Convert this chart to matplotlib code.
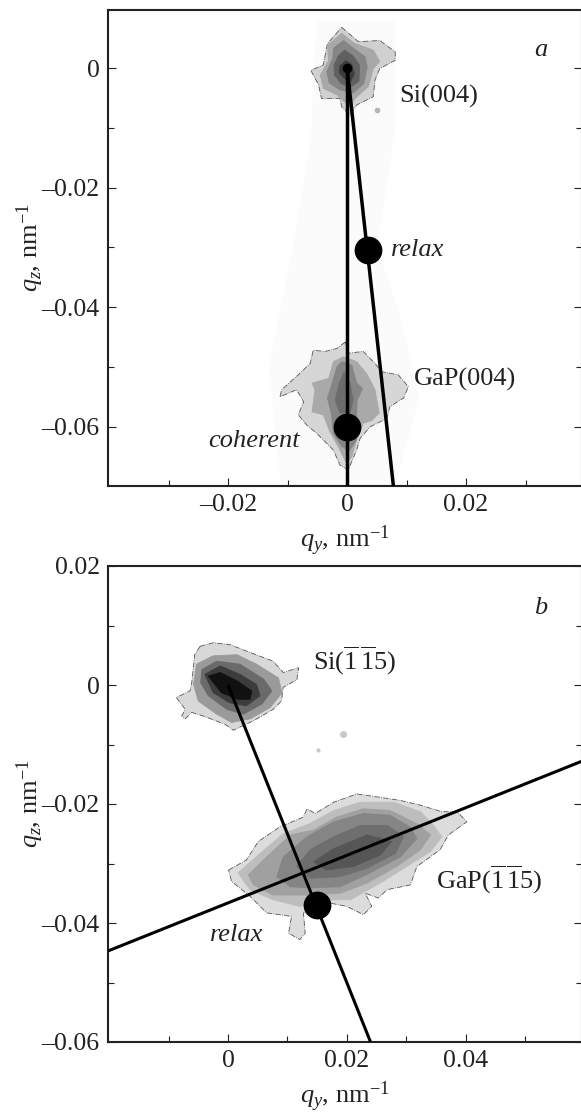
import matplotlib
matplotlib.use("Agg")
import matplotlib.pyplot as plt
from matplotlib.ticker import FixedLocator

plt.rcParams["font.family"] = ["Liberation Serif", "DejaVu Serif"]
plt.rcParams["mathtext.fontset"] = "custom"
plt.rcParams["mathtext.rm"] = "Liberation Serif"
plt.rcParams["mathtext.it"] = "Liberation Serif:italic"
plt.rcParams["mathtext.bf"] = "Liberation Serif:bold"

INK = "#222222"
W, H = 581, 1115

# all contour outlines are (qy, qz) in units of 1e-3 nm^-1
halo_a = [(-11, -70), (-13, -50), (-9, -30), (-6, -12), (-5, 8), (8, 8), (8, -10), (5, -30), (9, -42), (12, -55), (8, -70)]

si004 = [
    ("#d0d0d0", [(-0.9, 6.8), (1.9, 4.4), (5.5, 4.6), (8.1, 2.7), (8.1, 1.3), (5.5, -0.1), (4.7, -2.0), (4.4, -4.8), (1.6, -6.2), (0.5, -7.9), (-0.9, -6.5), (-1.2, -5.1), (-4.3, -5.1), (-4.8, -2.8), (-6.1, -0.4), (-4.0, 0.5), (-3.3, 4.1)]),
    ("#a8a8a8", [(-0.9, 5.8), (1.3, 4.1), (4.4, 3.0), (5.5, 1.1), (4.4, -0.1), (3.6, -3.1), (1.3, -5.1), (0.5, -6.5), (-1.7, -4.5), (-4.0, -3.4), (-4.5, -1.2), (-3.1, 1.3), (-3.3, 3.8)]),
    ("#858585", [(-0.6, 4.6), (1.2, 3.2), (3.0, 1.9), (3.4, 0.2), (2.8, -2.6), (1.0, -4.2), (-1.3, -3.6), (-3.0, -2.5), (-3.4, -0.6), (-2.4, 1.6), (-2.3, 3.3)]),
    ("#606060", [(-0.4, 3.0), (1.0, 2.0), (2.1, 0.5), (2.0, -2.2), (0.6, -3.2), (-1.0, -2.6), (-2.1, -1.2), (-2.2, 0.5), (-1.5, 2.0)]),
    ("#3c3c3c", [(-0.2, 1.2), (0.8, 0.6), (1.2, -1.0), (0.6, -2.2), (-0.4, -1.8), (-1.3, -0.8), (-1.2, 0.4)]),
]

gap004 = [
    ("#d6d6d6", [(-0.3, -45.8), (0.2, -47.7), (2.7, -47.4), (4.7, -49.4), (5.8, -50.8), (8.6, -51.3), (10.3, -53.3), (9.5, -55.2), (7.2, -56.6), (6.7, -58.6), (3.9, -60.0), (2.2, -61.9), (1.6, -63.9), (0.2, -67.2), (-1.2, -66.4), (-2.3, -63.9), (-5.1, -61.1), (-6.8, -59.7), (-8.2, -58.0), (-7.3, -55.8), (-8.5, -53.8), (-11.3, -55.0), (-11.0, -53.8), (-8.2, -51.3), (-6.2, -49.4), (-5.7, -47.2), (-3.7, -47.4), (-1.7, -46.9)]),
    ("#a9a9a9", [(-0.6, -48.3), (1.6, -49.1), (3.3, -51.1), (4.7, -53.8), (5.4, -57.7), (4.1, -59.0), (2.7, -59.4), (1.6, -62.2), (0.8, -65.0), (-0.1, -66.1), (-1.5, -63.3), (-2.9, -60.8), (-4.0, -58.0), (-5.9, -57.5), (-5.4, -53.8), (-5.9, -52.7), (-3.1, -51.9), (-2.3, -49.1)]),
    ("#858585", [(-0.9, -49.1), (0.8, -49.7), (1.6, -52.7), (2.6, -53.6), (1.7, -55.5), (1.6, -58.0), (1.6, -62.2), (0.3, -64.1), (-0.9, -63.3), (-2.3, -61.1), (-2.6, -58.0), (-3.3, -55.2), (-2.6, -53.0), (-1.7, -50.0)]),
    ("#6c6c6c", [(-0.5, -50.8), (0.5, -52.7), (1.0, -55.5), (0.5, -57.7), (-1.2, -57.7), (-2.0, -55.5), (-1.3, -52.7)]),
]

si115 = [
    ("#d8d8d8", [(-4.7, 6.5), (-2.5, 7.1), (0.3, 6.8), (3.1, 5.7), (7.6, 4.0), (9.3, 2.1), (11.9, 2.9), (11.6, 0.9), (9.3, -0.4), (9.0, -2.7), (7.6, -4.1), (4.3, -6.0), (0.9, -7.6), (-0.5, -6.6), (-4.2, -5.2), (-6.1, -4.6), (-7.2, -5.7), (-7.8, -5.2), (-7.2, -4.1), (-8.7, -2.1), (-6.4, -1.0), (-6.1, 0.4), (-5.6, 5.1)]),
    ("#9a9a9a", [(-5.3, 3.5), (-2.5, 4.9), (1.5, 5.1), (4.8, 3.5), (8.5, 1.2), (9.1, -1.3), (7.1, -3.8), (3.7, -5.7), (0.6, -6.3), (-1.9, -4.9), (-5.0, -2.7), (-5.8, 0.1)]),
    ("#6a6a6a", [(-4.4, 2.6), (-1.9, 4.0), (2.0, 3.5), (6.0, 1.0), (7.4, -1.0), (5.7, -3.2), (2.6, -4.9), (-0.2, -4.1), (-3.3, -1.8), (-4.6, 0.4)]),
    ("#3c3c3c", [(-3.9, 1.8), (-1.3, 3.2), (2.0, 1.8), (4.8, 0.1), (5.4, -1.8), (3.1, -3.5), (0.3, -3.0), (-2.5, -1.3)]),
    ("#111111", [(-3.3, 1.5), (-1.3, 2.1), (1.5, 0.7), (4.0, -1.0), (3.7, -2.4), (1.7, -2.4), (-1.1, -1.3)]),
]

gap115 = [
    ("#dcdcdc", [(0.1, -31.1), (3.1, -29.4), (5.1, -26.3), (8.8, -23.8), (12.7, -22.2), (13.3, -20.8), (14.7, -21.6), (17.8, -19.7), (21.7, -18.3), (25.1, -18.8), (29.0, -19.4), (32.4, -20.2), (36.0, -21.3), (38.6, -21.3), (40.2, -23.0), (37.1, -25.2), (35.7, -27.7), (31.8, -30.5), (30.7, -33.6), (26.8, -34.4), (25.3, -35.8), (23.1, -35.0), (24.2, -37.2), (22.8, -38.6), (20.0, -37.2), (16.9, -36.6), (14.4, -38.3), (12.7, -38.3), (13.0, -41.7), (12.1, -42.8), (10.2, -41.7), (10.7, -38.9), (6.5, -38.3), (3.7, -35.5), (0.6, -33.0)]),
    ("#bdbdbd", [(1.7, -31.6), (5.4, -28.3), (9.3, -25.0), (13.8, -23.3), (17.8, -21.1), (22.3, -19.7), (27.9, -19.7), (32.4, -21.3), (34.6, -23.6), (36.0, -25.5), (34.1, -28.0), (30.1, -30.5), (25.6, -33.3), (20.6, -36.1), (16.6, -36.1), (12.1, -37.2), (7.6, -36.1), (3.7, -34.4)]),
    ("#a0a0a0", [(3.4, -31.9), (6.5, -28.9), (10.5, -25.2), (14.4, -24.4), (18.3, -22.2), (22.8, -20.8), (27.3, -21.1), (31.8, -23.3), (34.1, -25.2), (32.4, -27.7), (28.4, -30.5), (23.4, -33.3), (18.9, -35.0), (13.3, -35.3), (7.6, -35.3), (4.3, -33.6)]),
    ("#858585", [(8.2, -32.2), (9.3, -28.9), (13.3, -25.5), (17.8, -23.0), (22.8, -21.6), (27.3, -21.9), (30.7, -23.9), (31.8, -25.8), (29.0, -28.9), (23.9, -31.6), (18.9, -33.9), (13.8, -34.1), (10.5, -33.9)]),
    ("#6e6e6e", [(11.6, -30.5), (13.8, -27.7), (17.8, -25.5), (22.3, -23.6), (26.8, -23.6), (29.6, -25.5), (28.2, -28.3), (23.4, -30.8), (18.9, -32.2), (13.8, -32.5)]),
    ("#565656", [(14.4, -29.7), (17.8, -27.5), (23.4, -25.2), (27.6, -26.3), (25.6, -28.6), (21.1, -30.5), (16.6, -31.1)]),
]

specks_a = [(5.0, -7.0)]
specks_b = [(19.4, -8.2), (15.1, -10.9)]

# rod lines, (qy, qz) end points in nm^-1
lines_a = [((0, 0), (0, -0.07)), ((0, 0), (0.0078, -0.07))]
lines_b = [((0, 0), (0.024, -0.06)), ((-0.0202, -0.0447), (0.0596, -0.0128))]
dots_a = [(0, -0.06), (0.0035, -0.0305)]
dots_b = [(0.015, -0.037)]

xlim_a = (-0.0402, 0.0395)
ylim_a = (-0.0699, 0.0097)
xlim_b = (-0.0202, 0.0596)
ylim_b = (-0.06, 0.02)


def style(ax, xlim, ylim, xticks, xlabels, yticks, ylabels, xminor, yminor):
    ax.set_xlim(xlim)
    ax.set_ylim(ylim)
    ax.set_xticks(xticks)
    ax.set_xticklabels(xlabels)
    ax.set_yticks(yticks)
    ax.set_yticklabels(ylabels)
    ax.xaxis.set_minor_locator(FixedLocator(xminor))
    ax.yaxis.set_minor_locator(FixedLocator(yminor))
    ax.tick_params(which="major", direction="in", length=6, width=0.8, color=INK,
                   labelsize=18.5, labelcolor=INK, top=False, right=True, pad=6)
    ax.tick_params(which="minor", direction="in", length=4, width=0.8, color=INK,
                   top=False, right=True)
    for s in ax.spines.values():
        s.set_linewidth(1.5)
        s.set_color(INK)
    ax.set_xlabel(r"$q_y$, nm$^{-1}$", fontsize=19, color=INK, labelpad=5)
    ax.set_ylabel(r"$q_z$, nm$^{-1}$", fontsize=19, color=INK, labelpad=-3)


def blob(ax, levels):
    for i, (col, pts) in enumerate(levels):
        xs = [p[0] / 1000 for p in pts]
        ys = [p[1] / 1000 for p in pts]
        # only the outermost contour keeps its broken dark outline
        edge = "#555555" if i == 0 else col
        ax.fill(xs, ys, facecolor=col, edgecolor=edge, linewidth=0.6,
                linestyle="-." if i == 0 else "-", zorder=2 + i * 0.1)


fig = plt.figure(figsize=(W / 100, H / 100), dpi=100)
ax_a = fig.add_axes([108 / W, 1 - 486 / H, 474 / W, 476 / H])
ax_b = fig.add_axes([108 / W, 1 - 1042 / H, 474 / W, 476 / H])

# panel a
ax_a.fill([p[0] / 1000 for p in halo_a], [p[1] / 1000 for p in halo_a], color="#fbfbfb", zorder=1)
blob(ax_a, si004)
blob(ax_a, gap004)
for x, y in specks_a:
    ax_a.plot(x / 1000, y / 1000, "o", ms=3, color="#b5b5b5", zorder=2)
for p, q in lines_a:
    ax_a.plot([p[0], q[0]], [p[1], q[1]], color="black", lw=2.5, zorder=4, solid_capstyle="butt")
ax_a.plot([p[0] for p in dots_a], [p[1] for p in dots_a], "o", ms=20, color="black", mew=0, zorder=5, clip_on=False)
ax_a.plot(0, 0, "o", ms=7, color="black", mew=0, zorder=5)
style(ax_a, xlim_a, ylim_a, [-0.02, 0, 0.02], ["–0.02", "0", "0.02"],
      [0, -0.02, -0.04, -0.06], ["0", "–0.02", "–0.04", "–0.06"],
      [-0.03, -0.01, 0.01, 0.03], [-0.05, -0.03, -0.01])
ax_a.text(0.0326, 0.003, "a", style="italic", fontsize=19, ha="center", va="center", color=INK)
ax_a.text(0.00874, -0.0048, "Si(004)", fontsize=19, va="center", color=INK)
ax_a.text(0.0074, -0.0304, "relax", style="italic", fontsize=19, va="center", color=INK)
ax_a.text(0.0113, -0.0521, "GaP(004)", fontsize=19, va="center", color=INK)
ax_a.text(-0.0234, -0.0623, "coherent", style="italic", fontsize=19, va="center", color=INK)

# panel b
blob(ax_b, si115)
blob(ax_b, gap115)
ax_b.plot(specks_b[0][0] / 1000, specks_b[0][1] / 1000, "o", ms=4, color="#c8c8c8", zorder=2)
ax_b.plot(specks_b[1][0] / 1000, specks_b[1][1] / 1000, "o", ms=2, color="#c8c8c8", zorder=2)
for p, q in lines_b:
    ax_b.plot([p[0], q[0]], [p[1], q[1]], color="black", lw=2.2, zorder=4, solid_capstyle="butt")
ax_b.plot([p[0] for p in dots_b], [p[1] for p in dots_b], "o", ms=20, color="black", mew=0, zorder=5)
style(ax_b, xlim_b, ylim_b, [0, 0.02, 0.04], ["0", "0.02", "0.04"],
      [0.02, 0, -0.02, -0.04, -0.06], ["0.02", "0", "–0.02", "–0.04", "–0.06"],
      [-0.01, 0.01, 0.03, 0.05], [0.01, -0.01, -0.03, -0.05])
ax_b.text(0.0527, 0.013, "b", style="italic", fontsize=19, ha="center", va="center", color=INK)
ax_b.text(0.0143, 0.004, r"Si($\mathrm{\overline{1}\,\overline{1}5}$)", fontsize=19, va="center", color=INK)
ax_b.text(0.0351, -0.0328, r"GaP($\mathrm{\overline{1}\,\overline{1}5}$)", fontsize=19, va="center", color=INK)
ax_b.text(-0.003, -0.0421, "relax", style="italic", fontsize=19, va="center", color=INK)

fig.savefig("out.png", dpi=100)
